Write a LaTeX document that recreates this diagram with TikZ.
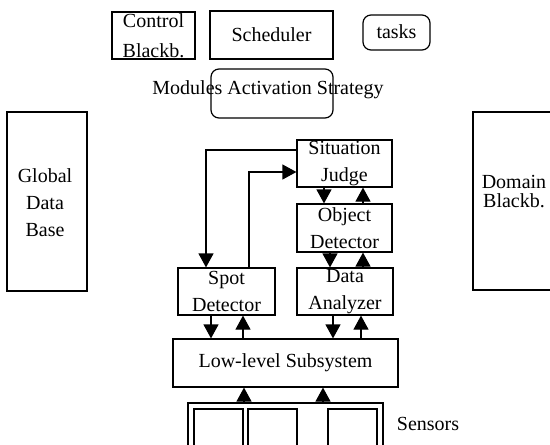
\documentclass[tikz,border=0pt]{standalone}
\usepackage{fontspec}
\setmainfont{Liberation Serif}
\usetikzlibrary{arrows.meta,calc}
\begin{document}
\begin{tikzpicture}[x=1pt,y=-1pt,
  every node/.style={font=\fontsize{20}{27}\selectfont, inner sep=0pt},
  box/.style={draw, line width=1.2pt, align=center},
  rbox/.style={box, rounded corners=8pt},
  lbl/.style={align=center},
  arr/.style={line width=1.2pt, -{Triangle[width=15pt,length=14pt]}}]
\useasboundingbox (0,0) rectangle (550,445);
\clip (0,0) rectangle (550,445);

% top row: control blackboard, scheduler, tasks
\node[box, minimum width=83pt, minimum height=47pt] (cb) at (153.5,35.5) {Control\\[3pt]Blackb.};
\node[box, minimum width=123pt, minimum height=48pt] (sch) at (271.5,35) {Scheduler};
\node[rbox, minimum width=67pt, minimum height=35pt] (tasks) at (396.5,32.5) {\raisebox{2pt}{tasks}};

% activation strategy
\node[rbox, minimum width=122pt, minimum height=49pt] (mas) at (272,93.5) {};
\node[lbl] (mastxt) at (268,90) {Modules Activation Strategy};

% side blackboards
\node[box, minimum width=80pt, minimum height=179pt] (gdb) at (47,201.5) {};
\node[lbl] (gdbtxt) at (45,203) {Global\\Data\\Base};
\node[box, minimum width=120pt, minimum height=178pt] (dom) at (533,201) {};
\node[lbl] (domtxt) at (514,192) {Domain\\[-8pt]Blackb.};

% processing modules
\node[box, minimum width=95pt, minimum height=47pt] (sj) at (344.5,163.5) {Situation\\Judge};
\node[box, minimum width=95pt, minimum height=48pt] (od) at (344.5,228) {Object\\Detector};
\node[box, minimum width=97pt, minimum height=47pt] (sd) at (226.5,291.5) {Spot\\Detector};
\node[box, minimum width=96pt, minimum height=47pt] (da) at (345,291.5) {Data\\Analyzer};
\node[box, minimum width=225pt, minimum height=48pt] (ll) at (285.5,363) {Low-level Subsystem};

% sensors
\node[box, minimum width=195pt, minimum height=60pt] (sens) at (285.5,433) {};
\node[box, minimum width=49pt, minimum height=42pt] (s1) at (218.5,430) {};
\node[box, minimum width=49pt, minimum height=42pt] (s2) at (272.5,430) {};
\node[box, minimum width=49pt, minimum height=42pt] (s3) at (352.5,430) {};
\node[lbl] (senstxt) at (428,424) {Sensors};

% vertical exchanges
\draw[arr] ([xshift=-20.5pt]sj.south) -- ([xshift=-20.5pt]od.north);
\draw[arr] ([xshift=18.5pt]od.north) -- ([xshift=18.5pt]sj.south);
\draw[arr] ([xshift=-14.5pt]od.south) -- ([xshift=-14.5pt]od.south |- da.north);
\draw[arr] ([xshift=18.5pt]od.south |- da.north) -- ([xshift=18.5pt]od.south);
\draw[arr] ([xshift=-15.5pt]sd.south) -- ([xshift=-15.5pt]sd.south |- ll.north);
\draw[arr] ([xshift=16.5pt]sd.south |- ll.north) -- ([xshift=16.5pt]sd.south);
\draw[arr] ([xshift=-12pt]da.south) -- ([xshift=-12pt]da.south |- ll.north);
\draw[arr] ([xshift=16pt]da.south |- ll.north) -- ([xshift=16pt]da.south);
\draw[arr] ([xshift=-41.5pt]sens.north) -- ([xshift=-41.5pt]ll.south);
\draw[arr] ([xshift=37.5pt]sens.north) -- ([xshift=37.5pt]ll.south);

% feedback loop between situation judge and spot detector
\draw[arr] ([yshift=13.5pt]sj.west) -| ([xshift=-20.5pt]sd.north);
\draw[arr] ([xshift=22.5pt]sd.north) |- ([yshift=-8.5pt]sj.west);
\end{tikzpicture}
\end{document}
